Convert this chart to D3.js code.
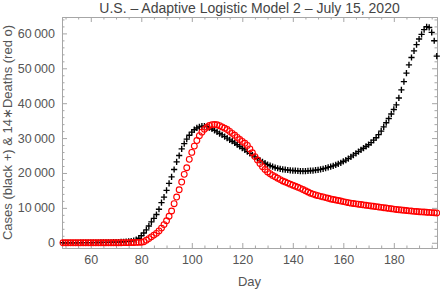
<!DOCTYPE html>
<html>
<head>
<meta charset="utf-8">
<script src="https://cdn.jsdelivr.net/npm/d3@7"></script>
<style>
  body { margin: 0; background: #fff; }
  svg { display: block; font-family: "Liberation Sans", Arial, sans-serif; }
  .axis path { stroke: #a6a6a6; }
  .axis line { stroke: #a6a6a6; }
  .axis text { fill: #555; font-size: 12.5px; }
</style>
</head>
<body>
<svg id="chart"></svg>
<script>
// day numbers (day of year 2020) for each point
var firstDay = 49;
var lastDay = 197;
var days = d3.range(firstDay, lastDay + 1);

// daily new cases (black +), days 49..197
var cases = [
    0, 0, 0, 0, 0, 10, 10, 20, 20, 30, 40, 50,
    60, 70, 80, 90, 100, 110, 120, 140, 160, 180, 200, 230, 270, 320,
    400, 500, 650, 900, 1300, 2000, 2800, 3700, 4800, 6000, 7000, 8100, 9600, 11500,
    13100, 15000, 17000, 18900, 21000, 23200, 25000, 26900, 28400, 29700, 30800, 31700,
    32400, 32900, 33200, 33400, 33400, 33300, 33000, 32600, 32200,
    31800, 31300, 30900, 30400, 30000, 29500, 29100, 28600, 28100, 27600, 27100,
    26600, 26100, 25600, 25100, 24600, 24100, 23600, 23200, 22800, 22400, 22100,
    21800, 21550, 21350, 21200, 21050, 20950, 20850, 20750, 20700,
    20650, 20600, 20550, 20550, 20550, 20600, 20650, 20700, 20800, 20900, 21050,
    21200, 21400, 21600, 21800, 22050, 22300, 22600, 22900, 23300, 23700, 24100,
    24600, 25100, 25600, 26100, 26600, 27100, 27600, 28100, 28700, 29400,
    30100, 31000, 32000, 33200, 34400, 35600, 36900, 38200, 39500, 41500, 43800,
    46200, 48600, 51000, 53100, 55000, 56800, 58400, 59700, 61100, 61900, 61700,
    60300, 57900, 53500
];

// 14 x daily deaths (red o), days 49..197
var deaths14 = [
    0, 0, 0, 0, 0, 0, 0, 0, 0, 0, 0, 0, 0, 0, 0, 0, 0, 0, 0, 0,
    10, 10, 20, 20, 30, 40, 50,
    60, 80, 100, 120, 150, 300, 750, 1200, 1700, 2200, 2700, 3400, 4200, 5200,
    6300, 7600, 9100, 11200, 13100, 15200, 17400, 19600, 21500, 23900, 25900,
    27700, 29300, 30700, 31700, 32500, 33100, 33600, 33850, 33900,
    33800, 33550, 33200, 32850, 32450, 31900, 31350, 30800, 30200, 29600, 29050,
    28500, 27900, 26900, 25800, 24700, 23700, 22700, 21800, 21000, 20300,
    19800, 19300, 18900, 18500, 18100, 17700, 17400, 17100, 16800, 16500, 16200,
    15900, 15600, 15250, 14900, 14550, 14200, 13950, 13700, 13500, 13300, 13150,
    12950, 12750, 12550, 12400, 12250, 12100, 11950, 11800, 11650, 11500, 11350,
    11250, 11150, 11050, 10950, 10850, 10750, 10650, 10550, 10450, 10350, 10250,
    10150, 10050, 9950, 9850, 9750, 9650, 9550, 9450, 9400, 9300, 9250, 9150,
    9100, 9000, 8950, 8900, 8850, 8800, 8750, 8700, 8650, 8600, 8550
];

var xTicks = [60, 80, 100, 120, 140, 160, 180];
var yTicks = [0, 10000, 20000, 30000, 40000, 50000, 60000];
var yTickLabels = ["0", "10\u2009000", "20\u2009000", "30\u2009000", "40\u2009000", "50\u2009000", "60\u2009000"];

var width = 440;
var height = 290;
var margin = {top: 17, right: 3, bottom: 42, left: 62};
var innerW = width - margin.left - margin.right;
var innerH = height - margin.top - margin.bottom;

var svg = d3.select("#chart").attr("width", width).attr("height", height);
var g = svg.append("g").attr("transform", `translate(${margin.left},${margin.top})`);

var x = d3.scaleLinear().domain([48.6, 197.1]).range([0, innerW]);
var y = d3.scaleLinear().domain([-1500, 64700]).range([innerH, 0]);

var xMinor = d3.range(50, 197, 5).filter(d => xTicks.indexOf(d) < 0);
var yMinor = d3.range(0, 64001, 2000).filter(d => yTicks.indexOf(d) < 0);

function drawAxis(axisFn, scale, transform, major, minor, labels) {
    var ax = g.append("g").attr("class", "axis").attr("transform", transform);
    ax.call(axisFn(scale).tickValues(minor).tickSize(-2.5).tickFormat("").tickSizeOuter(0));
    var ax2 = g.append("g").attr("class", "axis").attr("transform", transform);
    var a = axisFn(scale).tickValues(major).tickSize(-5).tickPadding(7).tickSizeOuter(0);
    if (labels) a.tickFormat(labels); else a.tickFormat("");
    ax2.call(a);
    return ax2;
}

drawAxis(d3.axisBottom, x, `translate(0,${innerH})`, xTicks, xMinor, d => String(d));
drawAxis(d3.axisTop, x, "translate(0,0)", xTicks, xMinor, null);
drawAxis(d3.axisLeft, y, "translate(0,0)", yTicks, yMinor, (d, i) => yTickLabels[i]);
drawAxis(d3.axisRight, y, `translate(${innerW},0)`, yTicks, yMinor, null);

// cases: black plus signs
g.append("g").selectAll("path").data(days).enter()
    .append("path")
    .attr("d", (d, i) => {
        var px = x(d), py = y(cases[i]), s = 3.1;
        return `M${px - s},${py}H${px + s}M${px},${py - s}V${py + s}`;
    })
    .attr("stroke", "#000")
    .attr("stroke-width", 1.35)
    .attr("fill", "none");

// 14*deaths: red open circles
g.append("g").selectAll("circle").data(days).enter()
    .append("circle")
    .attr("cx", d => x(d))
    .attr("cy", (d, i) => y(deaths14[i]))
    .attr("r", 2.9)
    .attr("fill", "none")
    .attr("stroke", "#ff0000")
    .attr("stroke-width", 1.1);

// titles
svg.append("text")
    .attr("x", margin.left + innerW / 2)
    .attr("y", 13)
    .attr("text-anchor", "middle")
    .attr("fill", "#444")
    .attr("font-size", "14px")
    .text("U.S. \u2013 Adaptive Logistic Model 2 \u2013 July 15, 2020");

svg.append("text")
    .attr("x", margin.left + innerW / 2)
    .attr("y", 286)
    .attr("text-anchor", "middle")
    .attr("fill", "#555")
    .attr("font-size", "13px")
    .text("Day");

svg.append("text")
    .attr("transform", `translate(12,${margin.top + innerH / 2}) rotate(-90)`)
    .attr("text-anchor", "middle")
    .attr("fill", "#555")
    .attr("font-size", "13px")
    .text("Cases (black +) & 14\u2217Deaths (red o)");
</script>
</body>
</html>
